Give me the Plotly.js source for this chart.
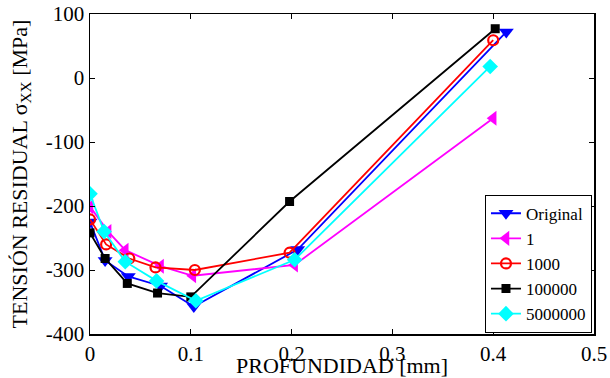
<!DOCTYPE html>
<html>
<head>
<meta charset="utf-8">
<script src="https://cdn.plot.ly/plotly-3.0.1.min.js"></script>
<style>html,body{margin:0;padding:0;background:#fff;}#chart{width:610px;height:378px;}</style>
</head>
<body>
<div id="chart"></div>
<script>
const seriesNames = ["Original", "1", "1000", "100000", "5000000"];
const xOriginal = [0.0, 0.015, 0.038, 0.070, 0.103, 0.206, 0.413];
const yOriginal = [-225, -285, -310, -325, -357, -268, 72];
const x1 = [0.0, 0.018, 0.035, 0.070, 0.102, 0.203, 0.400];
const y1 = [-201, -240, -269, -294, -309, -292, -63];
const x1000 = [0.0, 0.016, 0.039, 0.065, 0.104, 0.198, 0.400];
const y1000 = [-221, -260, -282, -296, -300, -273, 59];
const x100000 = [0.0, 0.015, 0.037, 0.067, 0.100, 0.198, 0.402];
const y100000 = [-242, -282, -321, -336, -342, -193, 77];
const x5000000 = [0.0, 0.014, 0.035, 0.066, 0.105, 0.203, 0.397];
const y5000000 = [-181, -240, -287, -317, -348, -284, 18];
const xTicks = [0, 0.1, 0.2, 0.3, 0.4, 0.5];
const xTickLabels = ["0", "0.1", "0.2", "0.3", "0.4", "0.5"];
const yTicks = [-400, -300, -200, -100, 0, 100];
const yTickLabels = ["-400", "-300", "-200", "-100", "0", "100"];

const font = "Liberation Serif";
const styles = [
  {color: "#0000ff", symbol: "triangle-down", size: 13, lw: 0},
  {color: "#ff00ff", symbol: "triangle-left", size: 13, lw: 0},
  {color: "#ff0000", symbol: "circle-open", size: 10, lw: 2.2},
  {color: "#000000", symbol: "square", size: 9, lw: 0},
  {color: "#00ffff", symbol: "diamond", size: 12, lw: 0}
];
const xs = [xOriginal, x1, x1000, x100000, x5000000];
const ys = [yOriginal, y1, y1000, y100000, y5000000];

const traces = seriesNames.map((n, i) => ({
  x: xs[i], y: ys[i], name: n, type: "scatter", mode: "lines+markers",
  line: {color: styles[i].color, width: 1.8},
  marker: {color: styles[i].color, symbol: styles[i].symbol, size: styles[i].size,
           line: {color: styles[i].color, width: styles[i].lw}}
}));

const layout = {
  width: 610, height: 378,
  margin: {l: 90, r: 16, t: 14, b: 44},
  paper_bgcolor: "#fff", plot_bgcolor: "#fff",
  font: {family: font, size: 20, color: "#000"},
  showlegend: true,
  legend: {x: 0.996, y: 0.004, xanchor: "right", yanchor: "bottom",
           bordercolor: "#000", borderwidth: 1, bgcolor: "#fff",
           font: {family: font, size: 17, color: "#000"}, itemwidth: 30, tracegroupgap: 0},
  xaxis: {range: [0, 0.5], tickvals: xTicks, ticktext: xTickLabels,
          ticks: "inside", ticklen: 5, tickcolor: "#000", mirror: "ticks",
          showline: true, linecolor: "#000", linewidth: 1.5, showgrid: false, zeroline: false,
          tickfont: {family: font, size: 21, color: "#000"},
          title: {text: "PROFUNDIDAD [mm]", font: {family: font, size: 22}, standoff: 0}},
  yaxis: {range: [-400, 100], tickvals: yTicks, ticktext: yTickLabels,
          ticks: "inside", ticklen: 5, tickcolor: "#000", mirror: "ticks",
          showline: true, linecolor: "#000", linewidth: 1.5, showgrid: false, zeroline: false,
          tickfont: {family: font, size: 21, color: "#000"},
          title: {text: "TENSIÓN RESIDUAL σ<sub>XX</sub> [MPa]", font: {family: font, size: 22}, standoff: 12}}
};
Plotly.newPlot("chart", traces, layout, {displayModeBar: false, staticPlot: true});
</script>
</body>
</html>
